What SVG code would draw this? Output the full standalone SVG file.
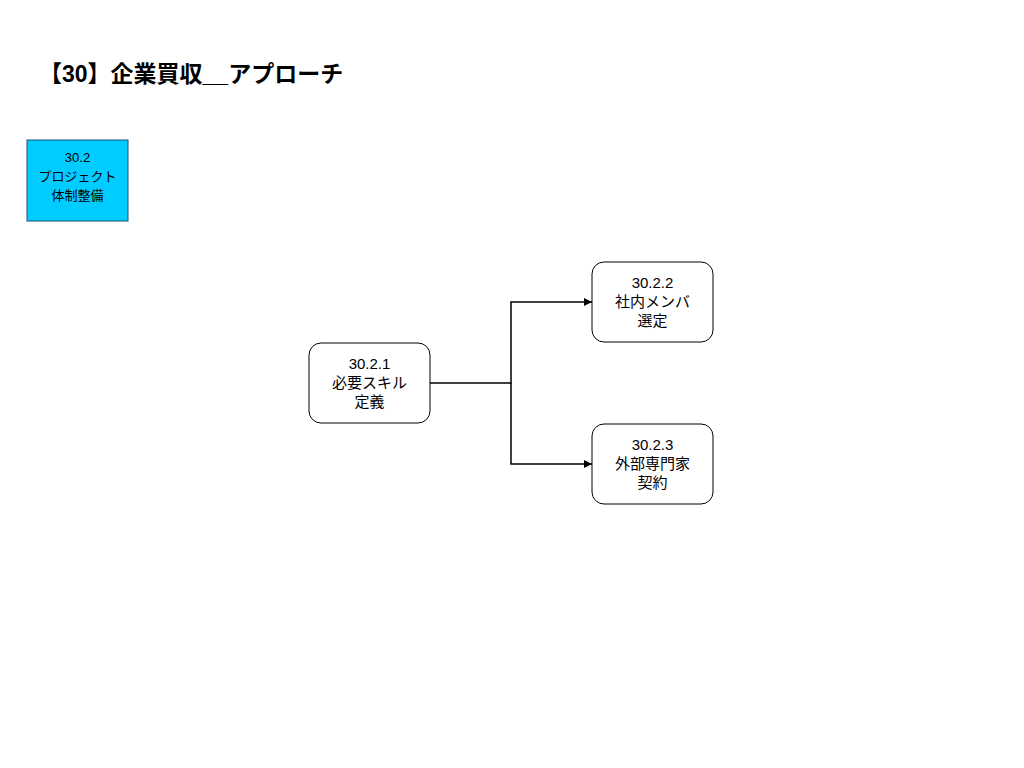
<svg xmlns="http://www.w3.org/2000/svg" width="1024" height="768" viewBox="0 0 1024 768">
<style>
text{font-family:"Liberation Sans","Noto Sans CJK JP",sans-serif;fill:#000}
.t{font-size:15px;text-anchor:middle}
.s{font-size:13px;text-anchor:middle}
.title{font-size:23px;font-weight:bold}
.n{fill:#fff;stroke:#000;stroke-width:1}
.c{fill:none;stroke:#000;stroke-width:1.5}
</style>
<defs>
<marker id="ah" viewBox="0 0 10 10" refX="10" refY="5" markerWidth="8" markerHeight="8" markerUnits="userSpaceOnUse" orient="auto"><path d="M0,0L10,5L0,10z" fill="#000"/></marker>
</defs>
<rect width="1024" height="768" fill="#fff"/>
<text class="title" x="39" y="82">【30】企業買収__アプローチ</text>
<g id="n30_2">
<rect x="27" y="140" width="101" height="81" fill="#00CCFF" stroke="#1f4e6e" stroke-width="1"/>
<text class="s" x="77.5" y="162">30.2</text>
<text class="s" x="77.5" y="181">プロジェクト</text>
<text class="s" x="77.5" y="200">体制整備</text>
</g>
<g id="connectors">
<path class="c" d="M430,383H511V302H592" marker-end="url(#ah)"/>
<path class="c" d="M511,383V464H592" marker-end="url(#ah)"/>
</g>
<g id="n30_2_1">
<rect class="n" x="309" y="343" width="121" height="80" rx="12"/>
<text class="t" x="369.5" y="369">30.2.1</text>
<text class="t" x="369.5" y="388">必要スキル</text>
<text class="t" x="369.5" y="407">定義</text>
</g>
<g id="n30_2_2">
<rect class="n" x="592" y="262" width="121" height="80" rx="12"/>
<text class="t" x="652.5" y="288">30.2.2</text>
<text class="t" x="652.5" y="307">社内メンバ</text>
<text class="t" x="652.5" y="326">選定</text>
</g>
<g id="n30_2_3">
<rect class="n" x="592" y="424" width="121" height="80" rx="12"/>
<text class="t" x="652.5" y="450">30.2.3</text>
<text class="t" x="652.5" y="469">外部専門家</text>
<text class="t" x="652.5" y="488">契約</text>
</g>
</svg>
